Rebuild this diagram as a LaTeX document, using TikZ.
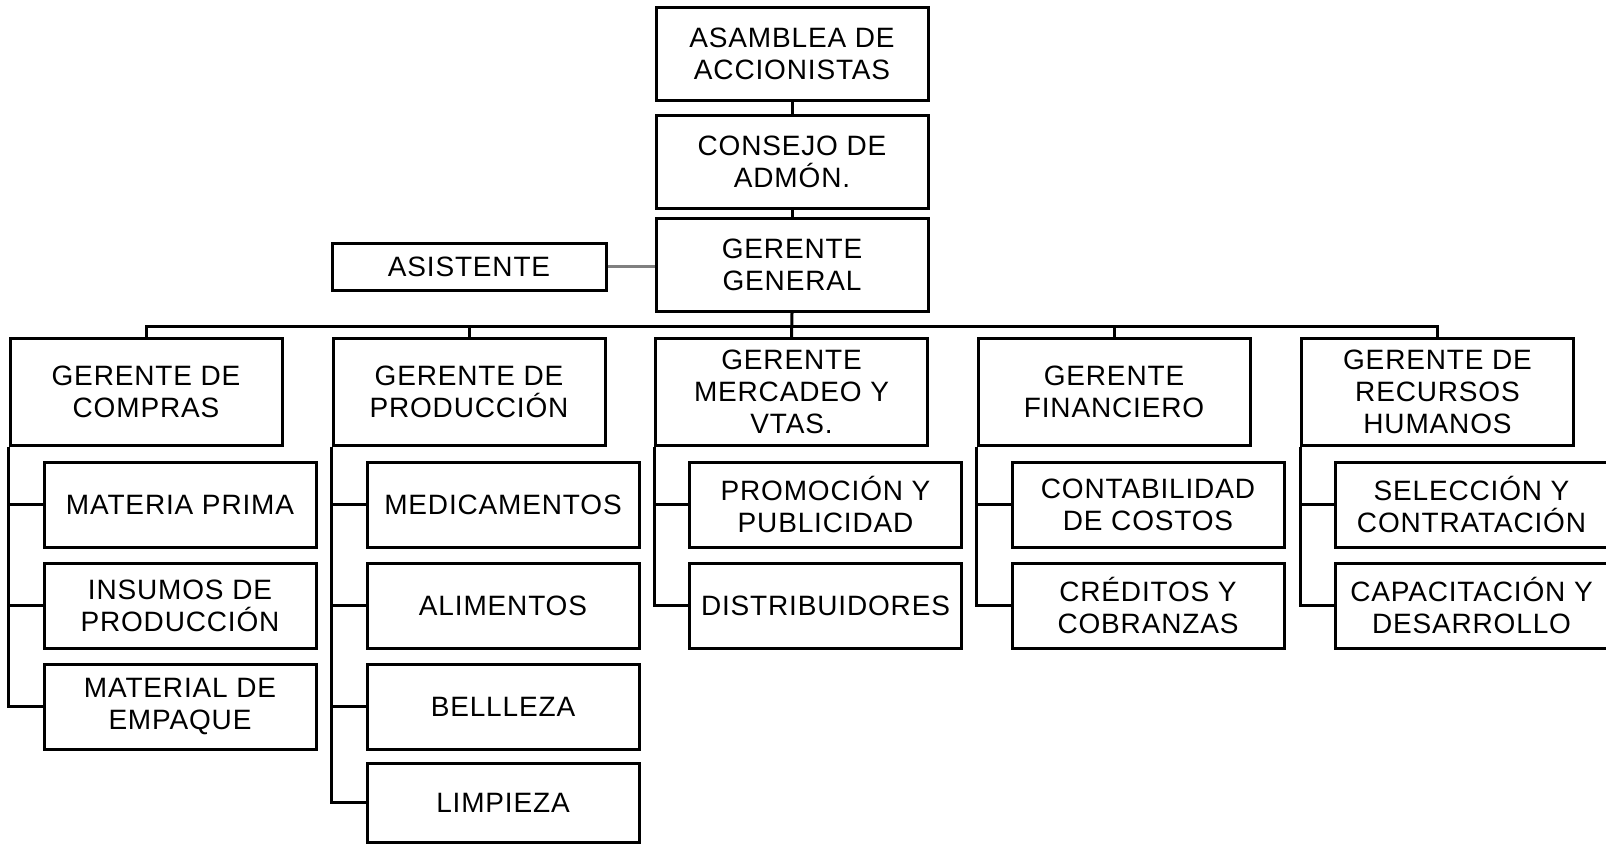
\documentclass[tikz,border=0pt]{standalone}
\usepackage{fontspec}
\setmainfont[LetterSpace=3]{Liberation Sans}
\usetikzlibrary{positioning}

\tikzset{
  orgbox/.style={draw, line width=1.5pt, align=center, inner sep=0pt,
    minimum width=136pt, font=\fontsize{14}{16}\selectfont},
  topbox/.style={orgbox, minimum height=46.5pt},
  headbox/.style={orgbox, minimum height=53.5pt},
  subbox/.style={orgbox, minimum height=42.5pt},
  link/.style={line width=1.5pt},
}

\begin{document}
\begin{tikzpicture}[x=0.5pt, y=-0.5pt]
\useasboundingbox (0,0) rectangle (1606,843);

% Top of the chart
\node[topbox]  (asamblea) at (792,53.5) {ASAMBLEA DE\\ACCIONISTAS};
\node[topbox]  (consejo)  at (792,161.5) {CONSEJO DE\\ADMÓN.};
\node[topbox]  (gerente)  at (792,265) {GERENTE\\GENERAL};
\node[orgbox, minimum width=137pt, minimum height=23.5pt] (asistente) at (469,266.5) {ASISTENTE};

\draw[link] (asamblea) -- (consejo);
\draw[link] (consejo) -- (gerente);
\draw[line width=1.2pt, gray] (asistente.east) -- (asistente.east -| gerente.west);

% Managers row
\node[headbox] (compras)    at (146,392)    {GERENTE DE\\COMPRAS};
\node[headbox] (produccion) at (469,392)    {GERENTE DE\\PRODUCCIÓN};
\node[headbox] (mercadeo)   at (791.5,392)  {GERENTE\\MERCADEO Y\\VTAS.};
\node[headbox] (financiero) at (1114,392)   {GERENTE\\FINANCIERO};
\node[headbox] (rrhh)       at (1437.5,392) {GERENTE DE\\RECURSOS\\HUMANOS};

\coordinate (bus) at (792,326.5);
\draw[link] (gerente.south) -- (mercadeo.north);
\draw[link] (compras.north) -- (compras.north |- bus) -| (rrhh.north);
\draw[link] (produccion.north) -- (produccion.north |- bus);
\draw[link] (financiero.north) -- (financiero.north |- bus);

% Compras
\node[subbox] (mprima)  at (180,504.5) {MATERIA PRIMA};
\node[subbox] (insumos) at (180,605.5) {INSUMOS DE\\PRODUCCIÓN};
\node[subbox] (empaque) at (180,706.5) {MATERIAL DE\\EMPAQUE};
\draw[link] (compras.south west) |- (empaque.west);
\draw[link] (mprima.west) -- (mprima.west -| compras.south west);
\draw[link] (insumos.west) -- (insumos.west -| compras.south west);

% Produccion
\node[subbox] (medic)    at (503,504.5) {MEDICAMENTOS};
\node[subbox] (alim)     at (503,605.5) {ALIMENTOS};
\node[subbox] (belleza)  at (503,706.5) {BELLLEZA};
\node[subbox, minimum height=39.5pt] (limpieza) at (503,802.5) {LIMPIEZA};
\draw[link] (produccion.south west) |- (limpieza.west);
\draw[link] (medic.west) -- (medic.west -| produccion.south west);
\draw[link] (alim.west) -- (alim.west -| produccion.south west);
\draw[link] (belleza.west) -- (belleza.west -| produccion.south west);

% Mercadeo y ventas
\node[subbox] (promo)  at (825.5,504.5) {PROMOCIÓN Y\\PUBLICIDAD};
\node[subbox] (distri) at (825.5,605.5) {DISTRIBUIDORES};
\draw[link] (mercadeo.south west) |- (distri.west);
\draw[link] (promo.west) -- (promo.west -| mercadeo.south west);

% Financiero
\node[subbox] (costos)   at (1148,504.5) {CONTABILIDAD\\DE COSTOS};
\node[subbox] (creditos) at (1148,605.5) {CRÉDITOS Y\\COBRANZAS};
\draw[link] (financiero.south west) |- (creditos.west);
\draw[link] (costos.west) -- (costos.west -| financiero.south west);

% Recursos humanos
\node[subbox] (seleccion) at (1471.5,504.5) {SELECCIÓN Y\\CONTRATACIÓN};
\node[subbox] (capacit)   at (1471.5,605.5) {CAPACITACIÓN Y\\DESARROLLO};
\draw[link] (rrhh.south west) |- (capacit.west);
\draw[link] (seleccion.west) -- (seleccion.west -| rrhh.south west);

\end{tikzpicture}
\end{document}
